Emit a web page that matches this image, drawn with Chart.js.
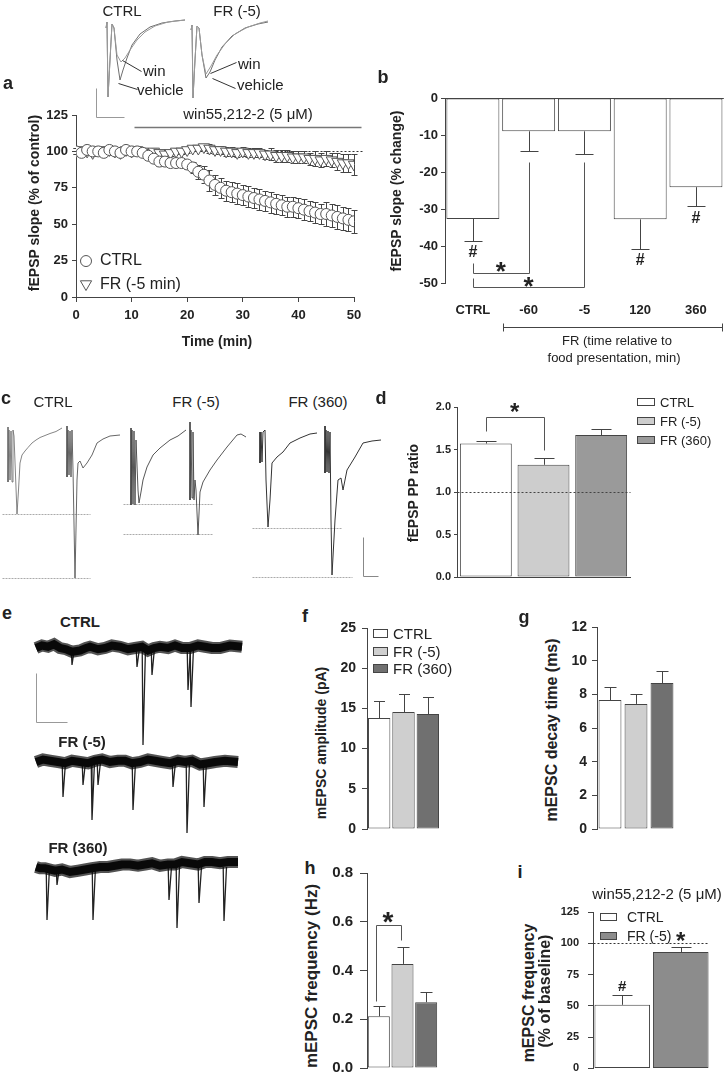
<!DOCTYPE html>
<html>
<head>
<meta charset="utf-8">
<title>fEPSP / mEPSC figure</title>
<script src="https://cdn.jsdelivr.net/npm/chart.js@4.4.1/dist/chart.umd.min.js"></script>
<style>
  body { margin: 0; background: #fff; }
  #fig { position: relative; width: 727px; height: 1084px; overflow: hidden; background: #fff;
         font-family: "Liberation Sans", Arial, Helvetica, sans-serif; color: #222; }
  #fig canvas { position: absolute; }
  .lab { position: absolute; white-space: nowrap; line-height: 1; }
  .key { position: absolute; box-sizing: border-box; border: 1px solid #444; }
</style>
</head>
<body>
<div id="fig"></div>
<script>
// ---------- panel a : fEPSP slope (% of control), one point per minute
var timeMin = [0,1,2,3,4,5,6,7,8,9,10,11,12,13,14,15,16,17,18,19,20,21,22,23,24,25,26,27,28,29,30,
               31,32,33,34,35,36,37,38,39,40,41,42,43,44,45,46,47,48,49,50];
var ctrlSlope = [100,99,101,100,100,99,101,100,99,101,100, 100,99,97,95,93,93,92,92,92,91,
                 89,86,84,80,77,75,73,72,71,70, 69,68,67,66,65,64,63,62,62,61, 60,59,58,57,57,56,55,54,53,52];
var ctrlSlopeSem = [2,2,2,2,2,2,2,2,2,2,2, 2,2,3,3,3,3,3,3,3,3, 4,5,6,7,7,7,7,7,7,7,
                    7,7,7,7,7,7,7,7,7,7, 7,7,7,7,8,8,8,8,8,8];
var frSlope = [100,101,100,99,101,100,101,100,99,101,100, 101,100,99,100,99,98,99,100,100,101,
               102,102,103,102,101,101,100,100,99,100, 99,99,99,98,98,97,97,97,96,96, 96,95,95,94,95,94,93,92,92,91];
var frSlopeSem = [2,2,2,2,2,2,2,2,2,2,2, 2,2,2,2,2,2,2,2,2,2, 2,2,2,3,3,3,3,3,3,3,
                  3,3,3,3,4,4,4,4,4,4, 4,4,5,5,5,5,6,6,6,7];

// inset traces of panel a (sample index, µV)
var aCtrlVeh = [[16,-60],[17,0],[18,-750],[20,-380],[22,-20],[24,-60],[27,-380],[30,-580],[33,-480],[37,-360],[42,-230],[50,-120],[60,-50],[72,-10],[85,10],[95,20]];
var aCtrlWin = [[16,-60],[17,0],[18,-750],[20,-380],[22,-20],[24,-60],[27,-330],[31,-400],[35,-360],[40,-280],[47,-180],[55,-100],[65,-40],[78,0],[95,20]];
var aFrVeh = [[101,-80],[102,-30],[103,-760],[105,-380],[107,-40],[109,-60],[112,-330],[116,-560],[120,-500],[125,-380],[132,-250],[142,-140],[155,-60],[168,-20],[178,0]];
var aFrWin = [[101,-80],[102,-30],[103,-760],[105,-380],[107,-40],[109,-60],[112,-330],[116,-520],[121,-440],[127,-330],[135,-220],[145,-120],[158,-50],[170,-10],[178,10]];

// ---------- panel b : % change of fEPSP slope
var bLabels = ['CTRL', '-60', '-5', '120', '360'];
var bChange = [-32.7, -9.0, -9.0, -32.8, -24.1];
var bChangeSem = [6.0, 5.2, 6.0, 8.0, 5.2];

// ---------- panel c : paired-pulse traces (sample index, µV), one array per response
var cCtrlP1 = [[8,30],[8,-520],[9,0],[10,-500],[11,-10],[12,-520],[13,0],[14,-60],[15.5,-450],[17,-840],[18.5,-600],[20,-330],[22,-250],[25,-210],[28,-175],[32,-130],[36,-100],[40,-75],[45,-55],[50,-35],[56,-15],[62,20]];
var cCtrlP2 = [[67,40],[67,-470],[68,0],[69,-450],[70,-10],[71,-470],[72,0],[73,-400],[75,-1480],[77,-500],[78,-330],[80,-310],[83,-380],[87,-330],[92,-250],[97,-130],[103,-90],[110,-60],[120,-50]];
var cFr5P1 = [[131,20],[131,-750],[132,0],[133,-740],[134,-10],[135,-750],[136,-100],[138,-600],[139,-730],[141,-620],[143,-500],[147,-370],[153,-250],[160,-180],[170,-100],[178,-60],[186,0]];
var cFr5P2 = [[190,80],[190,-700],[191,0],[192,-680],[193,-20],[194,-700],[195,-500],[196,-600],[198,-1050],[200,-620],[203,-520],[210,-400],[217,-300],[227,-170],[237,-50],[241,-40],[246,-70]];
var cFr360P1 = [[260,-20],[260,-330],[261,-20],[262,-320],[263,-20],[265,0],[266,-500],[268,-970],[270,-700],[272,-330],[277,-270],[283,-220],[290,-130],[300,-80],[310,-40],[317,-30]];
var cFr360P2 = [[325,40],[325,-430],[326,0],[327,-420],[328,-10],[329,-430],[330,-20],[331,-900],[332,-1450],[335,-900],[338,-500],[341,-480],[343,-600],[347,-400],[355,-270],[363,-130],[372,-110],[381,-100]];
var cCtrlPeaks = [-840, -1480];
var cFr5Peaks = [-740, -1040];
var cFr360Peaks = [-980, -1470];

// ---------- panel d : PP ratio
var groups3 = ['CTRL', 'FR (-5)', 'FR (360)'];
var ppRatio = [1.57, 1.32, 1.67];
var ppRatioSem = [0.035, 0.079, 0.066];

// ---------- panel e : mEPSC traces (sample index, pA from baseline)
var eCtrlBase = [[6,0],[12,1],[18,0.5],[24,1.5],[30,0],[36,-0.5],[42,-1.5],[50,-1],[56,0],[60,0.5],[68,-0.5],[75,0],[82,1],[90,0.5],[98,-0.5],[105,0],[112,0.5],[118,-1],[124,0],[130,0.5],[138,0],[145,1],[152,0],[160,0],[168,1],[175,0.5],[182,0],[190,0],[200,1],[212,0.5]];
var eFr5Base = [[6,0],[13,1],[20,0.5],[28,0],[35,-0.5],[42,0.5],[50,0],[58,-0.5],[65,0.5],[72,1],[80,0],[88,0.5],[95,0.5],[102,-0.5],[110,0],[118,1],[125,0.5],[132,0],[140,-0.5],[148,0.5],[155,0],[162,0.5],[170,-1],[178,-0.5],[185,0],[195,0.5],[208,0]];
var eFr360Base = [[6,0],[10,-0.5],[15,-0.5],[20,-1],[25,-1.5],[32,-1],[40,-2],[48,-1.5],[55,-1],[62,-0.5],[70,0],[78,0],[85,0.5],[92,1],[100,1],[108,0.5],[115,1],[122,1.5],[130,0.5],[138,1],[145,1],[152,2],[160,1.5],[168,1],[175,2],[182,2],[190,1.5],[198,2],[208,2]];
var eCtrlEvents = [[42,-6.8],[107,-7.6],[113,-38.8],[122,-10.8],[158,-16.8],[161,-23.6]];
var eFr5Events = [[33,-14],[53,-9.2],[62,-23.2],[68,-9.2],[103,-19.2],[143,-10],[157,-28.4],[174,-18]];
var eFr360Events = [[17,-21.2],[27,-7.2],[63,-21.2],[139,-13.2],[147,-24.4],[169,-14.4],[194,-21.6]];

// ---------- panels f, g, h : mEPSC properties
var mAmp = [13.8, 14.55, 14.3];
var mAmpSem = [2.1, 2.25, 2.1];
var mDecay = [7.66, 7.43, 8.67];
var mDecaySem = [0.78, 0.59, 0.72];
var mFreq = [0.212, 0.427, 0.27];
var mFreqSem = [0.043, 0.071, 0.04];

// ---------- panel i : mEPSC frequency under win55,212-2 (% of baseline)
var iLabels = ['CTRL', 'FR (-5)'];
var mFreqWin = [50.8, 93];
var mFreqWinSem = [8.2, 4];

var fig = document.getElementById('fig');
var FONT = '"Liberation Sans", Arial, Helvetica, sans-serif';
Chart.defaults.font.family = FONT;
Chart.defaults.color = '#222';

function makeCanvas(left, top, w, h) {
  var c = document.createElement('canvas');
  c.width = w; c.height = h;
  c.style.left = left + 'px'; c.style.top = top + 'px';
  fig.appendChild(c);
  return c;
}

function label(s, x, y, size, bold, opt) {
  opt = opt || {};
  var d = document.createElement('div');
  d.className = 'lab';
  d.textContent = s;
  d.style.fontSize = size + 'px';
  d.style.fontWeight = bold ? 'bold' : 'normal';
  d.style.left = x + 'px';
  d.style.top = y + 'px';
  d.style.transform = 'translate(' + (opt.left ? '0' : '-50%') + ',-50%)' + (opt.rot ? ' rotate(-90deg)' : '');
  fig.appendChild(d);
}

function keyBox(x, y, w, h, color) {
  var d = document.createElement('div');
  d.className = 'key';
  d.style.left = x + 'px'; d.style.top = (y - h / 2) + 'px';
  d.style.width = w + 'px'; d.style.height = h + 'px';
  d.style.background = color;
  fig.appendChild(d);
}

function pairs(xs, ys) { return xs.map(function (x, i) { return { x: x, y: ys[i] }; }); }
function pts(arr, dy) {
  dy = dy || 0;
  return arr.map(function (p) { return { x: p[0], y: p[1] + dy }; });
}
// one little dataset per miniature event: fast downstroke, slower return
function spikeSets(list, dy, color) {
  return list.map(function (s) {
    return { data: [{ x: s[0] - 0.8, y: dy }, { x: s[0], y: dy + s[1] }, { x: s[0] + 2.5, y: dy }],
             borderColor: color, borderWidth: 1.3 };
  });
}
// noisy current baseline: a dark soft band under a solid core
function bandSets(arr, dy) {
  return [{ data: pts(arr, dy), borderColor: 'rgba(10,10,10,0.7)', borderWidth: 12 },
          { data: pts(arr, dy), borderColor: '#080808', borderWidth: 8 }];
}

// ---- drawing helpers (annotations and error bars, through the chart scales)
function toPx(chart, p) {
  return [chart.scales.x.getPixelForValue(p[0]), chart.scales.y.getPixelForValue(p[1])];
}
function marker(ctx, style, x, y, r, rot) {
  ctx.beginPath();
  if (style === 'circle') {
    ctx.arc(x, y, r, 0, Math.PI * 2);
  } else {
    var a = (rot || 0) * Math.PI / 180;
    for (var k = 0; k < 3; k++) {
      var px = x + Math.sin(a) * r, py = y - Math.cos(a) * r;
      k ? ctx.lineTo(px, py) : ctx.moveTo(px, py);
      a += Math.PI * 2 / 3;
    }
    ctx.closePath();
  }
  ctx.fill(); ctx.stroke();
}
function drawNotes(chart, list) {
  if (!list) return;
  var ctx = chart.ctx;
  list.forEach(function (n) {
    ctx.save();
    if (n.line) {
      ctx.beginPath();
      ctx.strokeStyle = n.color || '#444';
      ctx.lineWidth = n.width || 1;
      ctx.setLineDash(n.dash || []);
      n.line.forEach(function (p, i) {
        var q = toPx(chart, p);
        var x = Math.round(q[0]) + 0.5, y = Math.round(q[1]) + 0.5;
        i ? ctx.lineTo(x, y) : ctx.moveTo(x, y);
      });
      ctx.stroke();
    }
    if (n.text) {
      var q = toPx(chart, n.at);
      ctx.fillStyle = n.color || '#222';
      ctx.font = 'bold ' + n.size + 'px ' + FONT;
      ctx.textAlign = 'center';
      ctx.textBaseline = 'middle';
      ctx.fillText(n.text, q[0], q[1] + (n.dy || 0));
    }
    if (n.mark) {
      var m = toPx(chart, n.at);
      ctx.fillStyle = '#fff'; ctx.strokeStyle = '#555'; ctx.lineWidth = 1;
      marker(ctx, n.mark, m[0], m[1], n.r, n.rot);
    }
    ctx.restore();
  });
}
function drawErrors(chart, o) {
  var ctx = chart.ctx, ys = chart.scales.y;
  chart.data.datasets.forEach(function (ds, i) {
    if (!ds.errors) return;
    var meta = chart.getDatasetMeta(i);
    ctx.save();
    ctx.strokeStyle = '#444'; ctx.lineWidth = 1;
    meta.data.forEach(function (el, j) {
      var v = ds.data[j]; v = (v !== null && typeof v === 'object') ? v.y : v;
      var e = ds.errors[j];
      var x = Math.round(el.x) + 0.5, y0 = ys.getPixelForValue(v);
      var ends = o.both ? [v + e, v - e] : [v < 0 ? v - e : v + e];
      ends.forEach(function (ev) {
        var y1 = Math.round(ys.getPixelForValue(ev)) + 0.5;
        ctx.beginPath();
        ctx.moveTo(x, y0); ctx.lineTo(x, y1);
        ctx.moveTo(x - o.cap / 2, y1); ctx.lineTo(x + o.cap / 2, y1);
        ctx.stroke();
      });
    });
    ctx.restore();
  });
}
Chart.register({
  id: 'notes',
  beforeDatasetsDraw: function (chart) {
    var n = chart.canvas._notes || {};
    drawNotes(chart, n.under);
    if (n.err && n.err.under) drawErrors(chart, n.err);
  },
  afterDatasetsDraw: function (chart) {
    var n = chart.canvas._notes || {};
    if (n.err && !n.err.under) drawErrors(chart, n.err);
    drawNotes(chart, n.over);
  }
});

function baseOpts(pad) {
  return { responsive: false, animation: false, devicePixelRatio: 1, events: [],
           layout: { padding: pad },
           plugins: { legend: { display: false }, tooltip: { enabled: false } } };
}
function yAxis(min, max, step, width, size, tl, pad, fmt, zeroLine) {
  var ax = {
    min: min, max: max,
    ticks: { stepSize: step, font: { size: size, weight: 'bold' }, color: '#222', padding: pad },
    grid: { display: true, drawOnChartArea: !!zeroLine, drawTicks: true, tickLength: tl, tickColor: '#444',
            color: zeroLine ? function (c) { return c.tick && c.tick.value === 0 ? '#444' : 'rgba(0,0,0,0)'; } : '#444' },
    border: { display: true, color: '#444' },
    afterFit: function (s) { s.width = width; }
  };
  if (fmt) ax.ticks.callback = fmt;
  return ax;
}
function oneDec(v) { return Number(v).toFixed(1); }

function barChart(c) {
  var box = c.box, area = c.area;
  var cv = makeCanvas(box[0], box[1], box[2], box[3]);
  cv._notes = c.notes || {};
  cv._notes.err = { cap: c.cap, both: false, under: false };
  var xHeight = box[1] + box[3] - area[3];
  var opts = baseOpts({ left: 0, top: area[1] - box[1], right: box[0] + box[2] - area[2], bottom: 0 });
  var y = c.y;
  opts.scales = {
    x: { type: 'category', offset: true,
         grid: { display: false, drawTicks: false },
         border: { display: !!c.xBorder, color: '#444' },
         ticks: { display: !!c.xLabels, font: { size: 13, weight: 'bold' }, color: '#222',
                  padding: c.labelPad || 0, maxRotation: 0, autoSkip: false },
         afterFit: function (s) { s.height = xHeight; } },
    y: yAxis(y[0], y[1], y[2], area[0] - box[0], y[3], y[4], y[5], y[6], y[7])
  };
  return new Chart(cv, {
    type: 'bar',
    data: { labels: c.labels, datasets: [{ data: c.values, errors: c.errors, backgroundColor: c.colors,
            borderColor: '#444', borderWidth: 1, borderSkipped: false,
            barPercentage: c.barPct, categoryPercentage: 1 }] },
    options: opts
  });
}

function traceChart(box, xr, yr, datasets, notes) {
  var cv = makeCanvas(box[0], box[1], box[2], box[3]);
  cv._notes = notes || {};
  var opts = baseOpts(0);
  opts.scales = { x: { type: 'linear', min: xr[0], max: xr[1], display: false },
                  y: { type: 'linear', min: yr[0], max: yr[1], display: false } };
  datasets.forEach(function (d) {
    d.showLine = true; d.pointRadius = 0; d.clip = false; d.tension = 0;
    d.borderWidth = d.borderWidth || 1;
  });
  return new Chart(cv, { type: 'scatter', data: { datasets: datasets }, options: opts });
}

// ================= panel a
(function () {
  var box = [0, 95, 372, 250];
  var cv = makeCanvas(box[0], box[1], box[2], box[3]);
  cv._notes = {
    under: [{ line: [[0, 100], [51.6, 100]], dash: [2, 2], color: '#333' }],
    over: [{ line: [[10.5, 117], [51.3, 117]], color: '#777', width: 1.5 },
           { mark: 'circle', at: [1.8, 24.7], r: 5.5 },
           { mark: 'triangle', at: [1.8, 8.9], r: 6.5, rot: 180 }],
    err: { cap: 6, both: true, under: true }
  };
  var opts = baseOpts({ left: 0, top: 20, right: 18, bottom: 0 });
  opts.scales = {
    x: { type: 'linear', min: 0, max: 50,
         ticks: { stepSize: 10, font: { size: 13, weight: 'bold' }, color: '#222', padding: 6 },
         grid: { display: true, drawOnChartArea: false, drawTicks: true, tickLength: 5, tickColor: '#444' },
         border: { display: true, color: '#444' },
         afterFit: function (s) { s.height = 48; } },
    y: yAxis(0, 125, 25, 76, 13, 4, 4)
  };
  new Chart(cv, {
    type: 'scatter',
    data: { datasets: [
      { label: 'CTRL', data: pairs(timeMin, ctrlSlope), errors: ctrlSlopeSem, pointStyle: 'circle',
        pointRadius: 5.5, pointBorderWidth: 1, pointBorderColor: '#555', pointBackgroundColor: '#fff' },
      { label: 'FR (-5 min)', data: pairs(timeMin, frSlope), errors: frSlopeSem, pointStyle: 'triangle',
        pointRotation: 180, pointRadius: 6.5, pointBorderWidth: 1, pointBorderColor: '#555', pointBackgroundColor: '#fff' }
    ] },
    options: opts
  });
})();

traceChart([90, 15, 200, 105], [0, 200], [-980, 70], [
  { data: pts(aCtrlWin), borderColor: '#9a9a9a' },
  { data: pts(aCtrlVeh), borderColor: '#6e6e6e' },
  { data: pts(aFrWin), borderColor: '#9a9a9a' },
  { data: pts(aFrVeh), borderColor: '#6e6e6e' }
], { over: [
  { line: [[32, -380], [51, -490]], color: '#333' },
  { line: [[28, -610], [47, -670]], color: '#333' },
  { line: [[120, -510], [146, -400]], color: '#333' },
  { line: [[122, -560], [145, -660]], color: '#333' },
  { line: [[6, -660], [6, -950], [34, -950]], color: '#999' }
] });

// ================= panel b
barChart({
  box: [375, 70, 352, 310], area: [445, 98, 725, 283],
  labels: bLabels, values: bChange, errors: bChangeSem,
  colors: ['#fff', '#fff', '#fff', '#fff', '#fff'], barPct: 0.95, cap: 18,
  y: [-50, 0, 10, 13, 4, 3, null, true], xLabels: true, labelPad: 20,
  notes: { over: [
    { text: '#', at: [0, -41.6], size: 16, dy: 1 },
    { text: '#', at: [3, -43.8], size: 16, dy: 1 },
    { text: '#', at: [4, -32.2], size: 16, dy: 1 },
    { line: [[0, -44.6], [0, -47.3], [1, -47.3], [1, -17.3]], color: '#555' },
    { line: [[0, -48.6], [0, -51.1], [2, -51.1], [2, -17.3]], color: '#555' },
    { text: '*', at: [0.5, -45.4], size: 26, dy: 7 },
    { text: '*', at: [1.0, -49.5], size: 26, dy: 7 },
    { line: [[0.54, -61.9], [4.46, -61.9]], color: '#444' },
    { line: [[0.54, -60.8], [0.54, -63.0]], color: '#444' },
    { line: [[4.46, -60.8], [4.46, -63.0]], color: '#444' }
  ] }
});

// ================= panel c
traceChart([0, 415, 385, 177], [0, 385], [-1620, 150], [
  { data: pts(cCtrlP1), borderColor: '#666', borderWidth: 0.8 },
  { data: pts(cCtrlP2), borderColor: '#555', borderWidth: 0.9 },
  { data: pts(cFr5P1), borderColor: '#444', borderWidth: 0.9 },
  { data: pts(cFr5P2), borderColor: '#444', borderWidth: 0.9 },
  { data: pts(cFr360P1), borderColor: '#333', borderWidth: 1 },
  { data: pts(cFr360P2), borderColor: '#333', borderWidth: 1 }
], { under: [
  { line: [[2, cCtrlPeaks[0]], [90, cCtrlPeaks[0]]], dash: [2, 1], color: '#aaa' },
  { line: [[2, cCtrlPeaks[1]], [90, cCtrlPeaks[1]]], dash: [2, 1], color: '#aaa' },
  { line: [[123, cFr5Peaks[0]], [212, cFr5Peaks[0]]], dash: [2, 1], color: '#aaa' },
  { line: [[123, cFr5Peaks[1]], [212, cFr5Peaks[1]]], dash: [2, 1], color: '#aaa' },
  { line: [[252, cFr360Peaks[0]], [341, cFr360Peaks[0]]], dash: [2, 1], color: '#aaa' },
  { line: [[252, cFr360Peaks[1]], [352, cFr360Peaks[1]]], dash: [2, 1], color: '#aaa' },
  { line: [[363, -1070], [363, -1460], [378, -1460]], color: '#888' }
] });

// ================= panel d
barChart({
  box: [380, 390, 260, 200], area: [457, 407, 630, 577],
  labels: groups3, values: ppRatio, errors: ppRatioSem,
  colors: ['#fff', '#cdcdcd', '#9a9a9a'], barPct: 0.9, cap: 20,
  y: [0, 2, 0.5, 11, 3, 3, oneDec], xBorder: true,
  notes: { over: [
    { line: [[-0.5, 1], [2.5, 1]], dash: [2, 2], color: '#444' },
    { line: [[0, 1.718], [0, 1.882], [1, 1.882], [1, 1.494]], color: '#555' },
    { text: '*', at: [0.5, 2.0], size: 24, dy: 6 }
  ] }
});

// ================= panel e
var eOffsets = [-7.2, -52.8, -94.8];
traceChart([30, 630, 220, 300], [0, 220], [-120, 0],
  bandSets(eCtrlBase, eOffsets[0]).concat(
    bandSets(eFr5Base, eOffsets[1]),
    bandSets(eFr360Base, eOffsets[2]),
    spikeSets(eCtrlEvents, eOffsets[0], '#222'),
    spikeSets(eFr5Events, eOffsets[1], '#222'),
    spikeSets(eFr360Events, eOffsets[2], '#222')),
  { over: [
    { line: [[6, -17.2], [6, -36.8], [37, -36.8]], color: '#999' }
  ] });

// ================= panel f
barChart({
  box: [330, 610, 120, 235], area: [367, 628, 440, 829],
  labels: groups3, values: mAmp, errors: mAmpSem,
  colors: ['#fff', '#cfcfcf', '#707070'], barPct: 0.92, cap: 11,
  y: [0, 25, 5, 14, 5, 6]
});

// ================= panel g
barChart({
  box: [560, 610, 125, 235], area: [597, 627, 675, 829],
  labels: groups3, values: mDecay, errors: mDecaySem,
  colors: ['#fff', '#cfcfcf', '#707070'], barPct: 0.88, cap: 12,
  y: [0, 12, 2, 14, 5, 5]
});

// ================= panel h
barChart({
  box: [325, 855, 125, 229], area: [367, 873, 438, 1077],
  labels: groups3, values: mFreq, errors: mFreqSem,
  colors: ['#fff', '#cfcfcf', '#707070'], barPct: 0.93, cap: 12,
  y: [0, 0.8, 0.2, 15, 7, 7, oneDec],
  notes: { over: [
    { line: [[-0.14, 0.275], [-0.14, 0.588], [0.94, 0.588], [0.94, 0.525]], color: '#555' },
    { text: '*', at: [0.39, 0.624], size: 28, dy: 7 }
  ] }
});

// ================= panel i
barChart({
  box: [550, 880, 177, 204], area: [593, 912, 710, 1077],
  labels: iLabels, values: mFreqWin, errors: mFreqWinSem,
  colors: ['#fff', '#8c8c8c'], barPct: 0.95, cap: 20,
  y: [0, 125, 25, 11, 5, 9],
  notes: { over: [
    { line: [[-0.5, 100], [1.45, 100]], dash: [2, 2], color: '#333' },
    { text: '#', at: [0, 66], size: 15, dy: 1 },
    { text: '*', at: [1, 105.3], size: 24, dy: 6 }
  ] }
});

// ================= text: panel letters, titles, legends, trace labels
label('a', 8, 83, 18, true);
label('CTRL', 122, 10, 15, false);
label('FR (-5)', 237, 10, 15, false);
label('win', 143, 70, 15, false, { left: true });
label('vehicle', 137, 89, 15, false, { left: true });
label('win', 238, 63, 15, false, { left: true });
label('vehicle', 237, 84, 15, false, { left: true });
label('win55,212-2 (5 \u03bcM)', 248, 113, 15, false);
label('fEPSP slope (% of control)', 34, 203, 14, true, { rot: true });
label('Time (min)', 217, 341, 14, true);
label('CTRL', 100, 260, 16, false, { left: true });
label('FR (-5 min)', 100, 284, 16, false, { left: true });

label('b', 383, 77, 18, true);
label('fEPSP slope (% change)', 396, 191, 14, true, { rot: true });
label('FR (time relative to', 617, 340, 13, false);
label('food presentation, min)', 614, 357, 13, false);

label('c', 6, 398, 18, true);
label('CTRL', 53, 401, 15, false);
label('FR (-5)', 196, 401, 15, false);
label('FR (360)', 318, 401, 15, false);

label('d', 381, 398, 18, true);
label('fEPSP PP ratio', 413, 493, 14, true, { rot: true });
keyBox(637, 402, 18, 8, '#fff'); label('CTRL', 660, 402, 13, false, { left: true });
keyBox(637, 421, 18, 8, '#cdcdcd'); label('FR (-5)', 660, 421, 13, false, { left: true });
keyBox(637, 440, 18, 8, '#9a9a9a'); label('FR (360)', 660, 440, 13, false, { left: true });

label('e', 7, 613, 18, true);
label('CTRL', 80, 621, 15, true);
label('FR (-5)', 82, 741, 15, true);
label('FR (360)', 78, 847, 15, true);

label('f', 305, 616, 18, true);
label('mEPSC amplitude (pA)', 321, 743, 14, true, { rot: true });
keyBox(373, 633, 15, 9, '#fff'); label('CTRL', 393, 633, 15, false, { left: true });
keyBox(373, 651, 15, 9, '#cfcfcf'); label('FR (-5)', 393, 651, 15, false, { left: true });
keyBox(373, 668, 15, 9, '#707070'); label('FR (360)', 393, 668, 15, false, { left: true });

label('g', 524, 617, 18, true);
label('mEPSC decay time (ms)', 552, 730, 16, true, { rot: true });

label('h', 310, 868, 18, true);
label('mEPSC frequency (Hz)', 311, 976, 17, true, { rot: true });

label('i', 520, 872, 18, true);
label('win55,212-2 (5 \u03bcM)', 657, 893, 15, false);
label('mEPSC frequency', 529, 993, 16, true, { rot: true });
label('(% of baseline)', 545, 991, 16, true, { rot: true });
keyBox(600, 917, 17, 8, '#fff'); label('CTRL', 627, 917, 14, false, { left: true });
keyBox(600, 936, 17, 8, '#8c8c8c'); label('FR (-5)', 627, 936, 14, false, { left: true });
</script>
</body>
</html>
